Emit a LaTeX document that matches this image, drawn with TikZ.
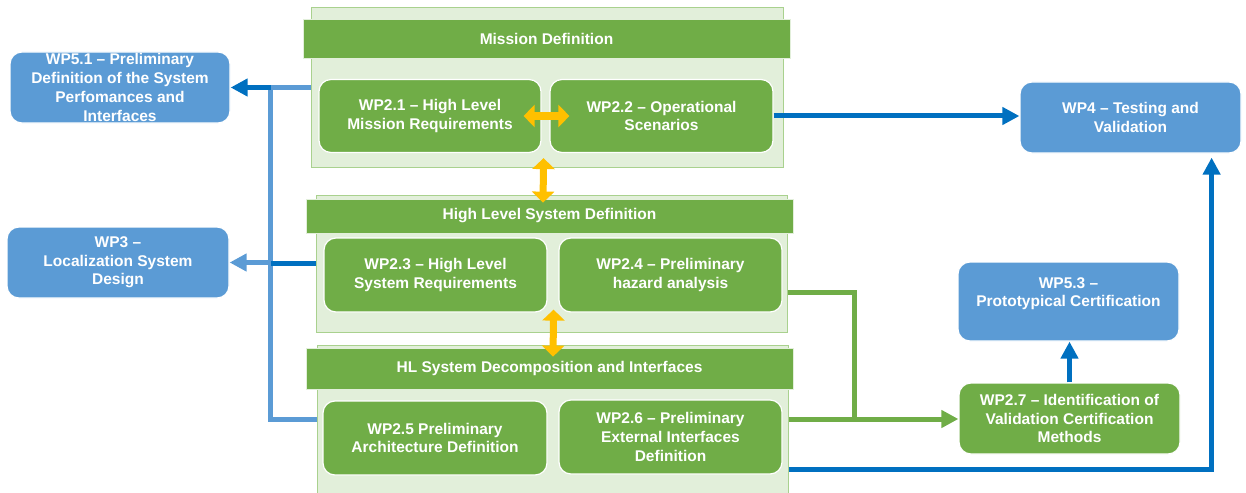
\documentclass[tikz,border=0pt]{standalone}
\usepackage{fontspec}
\setmainfont{Liberation Sans}
\usepackage{tikz}
\usetikzlibrary{arrows.meta}
\definecolor{wpgreen}{HTML}{70AD47}
\definecolor{wpblue}{HTML}{5B9BD5}
\definecolor{darkblue}{HTML}{0070C0}
\definecolor{panelgreen}{HTML}{E2EFDA}
\definecolor{panelline}{HTML}{A9D18E}
\definecolor{arrowyellow}{HTML}{FFC000}

\begin{document}
\begin{tikzpicture}[x=1pt, y=-1pt,
		txt/.style = {text=white, font=\fontsize{15.5}{18.7}\selectfont\bfseries, align=center, inner sep=0pt},
		greenbox/.style = {txt, rectangle, rounded corners=12pt, fill=wpgreen, draw=white, line width=1.2pt},
		bluebox/.style = {greenbox, fill=wpblue},
		panel/.style = {rectangle, fill=panelgreen, draw=panelline, line width=1pt},
		header/.style = {txt, rectangle, fill=wpgreen, draw=panelgreen, line width=0.8pt},
		lightline/.style = {draw=wpblue, line width=5pt},
		darkline/.style = {draw=darkblue, line width=5pt},
		greenline/.style = {draw=wpgreen, line width=5pt},
		tip/.style = {-{Triangle[length=17pt,width=17pt]}},
		yellowarrow/.style = {draw=arrowyellow, line width=7pt, arrows={Triangle[length=11pt,width=22pt]-Triangle[length=11pt,width=22pt]}}]
			\useasboundingbox (0,0) rectangle (1246,492);
			\clip (0,0) rectangle (1246,492);
			\node[panel, minimum width=472pt, minimum height=159pt] (mdbg) at (547,87.5) {};
			\node[header, minimum width=487pt, minimum height=39pt] (mdhead) at (546.5,38.5) {Mission Definition};
			\node[greenbox, minimum width=222pt, minimum height=73pt] (wp21) at (430,116) {WP2.1 – High Level\\Mission Requirements};
			\node[greenbox, minimum width=223pt, minimum height=73pt] (wp22) at (661.5,116) {WP2.2 – Operational\\Scenarios};
			\node[panel, minimum width=471pt, minimum height=137pt] (hlbg) at (551.5,263.5) {};
			\node[header, minimum width=487pt, minimum height=34pt] (hlhead) at (549.5,216) {High Level System Definition};
			\node[greenbox, minimum width=223pt, minimum height=74pt] (wp23) at (435.5,275) {WP2.3 – High Level\\System Requirements};
			\node[greenbox, minimum width=223pt, minimum height=74pt] (wp24) at (670.5,275) {WP2.4 – Preliminary\\hazard analysis};
			\node[panel, minimum width=471pt, minimum height=148pt] (decbg) at (552.5,419) {};
			\node[header, minimum width=487pt, minimum height=41pt] (dechead) at (549.5,368.5) {HL System Decomposition and Interfaces};
			\node[greenbox, minimum width=224pt, minimum height=74pt] (wp25) at (435,438) {WP2.5 Preliminary\\Architecture Definition};
			\node[greenbox, minimum width=223pt, minimum height=74pt] (wp26) at (670.5,437) {WP2.6 – Preliminary\\External Interfaces\\Definition};
			\node[bluebox, minimum width=220pt, minimum height=71pt] (wp51) at (120,87.5) {WP5.1 – Preliminary\\Definition of the System\\Perfomances and\\Interfaces};
			\node[bluebox, minimum width=222pt, minimum height=71pt] (wp3) at (118,262.5) {WP3 –\\Localization System\\Design};
			\node[bluebox, minimum width=221pt, minimum height=71pt] (wp4) at (1130.5,117.5) {WP4 – Testing and\\Validation};
			\node[bluebox, minimum width=221pt, minimum height=79pt] (wp53) at (1068.5,301.5) {WP5.3 –\\Prototypical Certification\\\mbox{}};
			\node[greenbox, minimum width=221pt, minimum height=71pt] (wp27) at (1069.5,418.5) {WP2.7 – Identification of\\Validation Certification\\Methods};
			\coordinate (bus) at (270.5,87.5);
			\coordinate (gjoin) at (854.5,419);
			\draw[lightline] (decbg.west) -| (bus) -- (mdbg.west);
			\draw[darkline, tip] (bus) -- (wp51.east);
			\draw[darkline] (hlbg.west) -- (bus |- hlbg.west);
			\draw[lightline, tip] (bus |- wp3.east) -- (wp3.east);
			\draw[darkline, tip] (wp22.east) -- (wp22.east -| wp4.west);
			\draw[greenline] ([yshift=-28.5pt]hlbg.east) -| (gjoin);
			\draw[greenline, tip] (decbg.east) -- (decbg.east -| wp27.west);
			\draw[darkline, tip] ([yshift=-50pt]decbg.east) -| ([xshift=-30pt,yshift=-4pt]wp4.south east);
			\draw[darkline, tip] (wp27.north) -- (wp27.north |- wp53.south);
			\draw[yellowarrow] ([xshift=-18pt]wp21.east) -- ([xshift=20pt]wp22.west);
			\draw[yellowarrow] ([xshift=2pt,yshift=-5pt]wp21.south east) -- ([xshift=-6.5pt,yshift=-4pt]hlhead.north);
			\draw[yellowarrow] ([xshift=6pt,yshift=3pt]wp23.south east) -- ([xshift=3.5pt,yshift=-9pt]dechead.north);
		\end{tikzpicture}
\end{document}
